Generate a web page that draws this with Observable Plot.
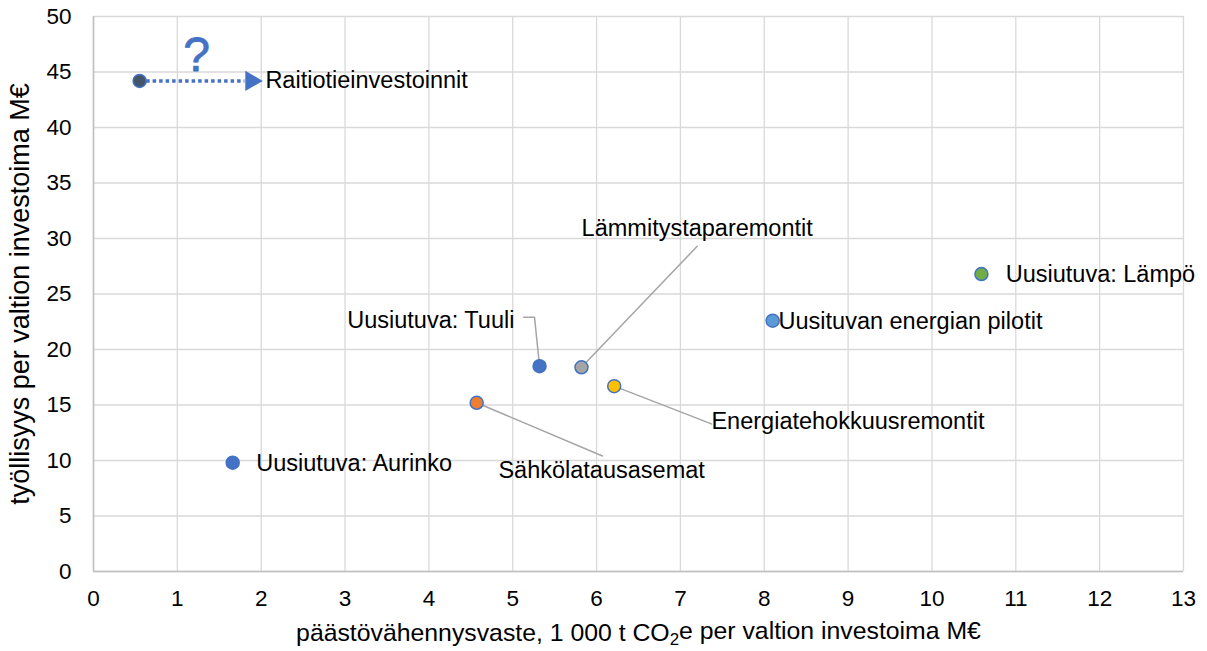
<!DOCTYPE html>
<html><head><meta charset="utf-8">
<script src="https://cdn.jsdelivr.net/npm/d3@7"></script>
<script src="https://cdn.jsdelivr.net/npm/@observablehq/plot@0.6"></script>
<style>
body{margin:0;background:#fff;font-family:"Liberation Sans",Arial,sans-serif}
#chart svg{display:block}
</style>
</head><body><div id="chart"></div>
<script>
// ---- data ----
const names = ["Raitiotieinvestoinnit","Uusiutuva: Aurinko","Sähkölatausasemat","Uusiutuva: Tuuli","Lämmitystaparemontit","Energiatehokkuusremontit","Uusituvan energian pilotit","Uusiutuva: Lämpö"];
const emissions = [0.55, 1.66, 4.57, 5.32, 5.82, 6.21, 8.10, 10.59];
const jobs = [44.2, 9.8, 15.2, 18.5, 18.4, 16.7, 22.6, 26.8];
const fills = ["#44546A","#4472C4","#ED7D31","#4472C4","#A5A5A5","#FFC000","#5B9BD5","#70AD47"];
const xTicks = d3.range(0, 14, 1);
const yTicks = d3.range(0, 55, 5);
const xLabelParts = ["päästövähennysvaste, 1 000 t CO", "2", "e per valtion investoima M€"];
const yLabel = "työllisyys per valtion investoima M€";

// ---- annotation layout (label anchors in data coords) ----
const labelX = [2.05, 1.94, 6.06, 5.02, 7.20, 7.37, 8.17, 10.88];
const labelY = [44.2, 9.7, 9.1, 22.6, 30.9, 13.5, 22.5, 26.8];
const labelAnchor = ["start","start","middle","end","middle","start","start","start"];
const leaders = [
  {id: 2, pts: [[4.57, 15.2], [6.07, 10.4]]},
  {id: 3, pts: [[5.32, 18.5], [5.26, 22.9], [5.13, 22.9]]},
  {id: 4, pts: [[5.82, 18.4], [7.20, 29.3]]},
  {id: 5, pts: [[6.21, 16.7], [7.37, 13.3]]}
];
const arrowFrom = [0.55, 44.2];
const arrowTo = [1.80, 44.2];
const arrowTip = [1.88, 44.2];
const question = {x: 1.23, y: 46.5, text: "?"};

const points = names.map((n, i) => ({name: n, x: emissions[i], y: jobs[i], fill: fills[i],
  lx: labelX[i], ly: labelY[i], anchor: labelAnchor[i]}));
const leaderRows = leaders.flatMap(l => l.pts.map(p => ({id: l.id, x: p[0], y: p[1]})));
const font = '"Liberation Sans", Arial, sans-serif';

const labelMarks = ["start", "middle", "end"].map(a =>
  Plot.text(points.filter(d => d.anchor === a), {x: "lx", y: "ly", text: "name", textAnchor: a, fill: "#000", fontSize: 23.5}));

const chart = Plot.plot({
  width: 1207, height: 651,
  marginLeft: 93, marginRight: 24, marginTop: 16, marginBottom: 80,
  style: {fontFamily: font, fontSize: "22.5px", color: "#000", background: "#fff", overflow: "visible"},
  x: {domain: [0, 13], ticks: xTicks, tickSize: 0, tickPadding: 19, label: null},
  y: {domain: [0, 50], ticks: yTicks, tickSize: 0, tickPadding: 22, label: null},
  marks: [
    Plot.gridX(xTicks, {stroke: "#D9D9D9", strokeOpacity: 1, strokeWidth: 1.3}),
    Plot.gridY(yTicks, {stroke: "#D9D9D9", strokeOpacity: 1, strokeWidth: 1.3}),
    Plot.ruleX([0], {stroke: "#BFBFBF", strokeWidth: 1.5}),
    Plot.ruleY([0], {stroke: "#BFBFBF", strokeWidth: 1.5}),
    Plot.line(leaderRows, {x: "x", y: "y", z: "id", stroke: "#A5A5A5", strokeWidth: 1.5}),
    Plot.link([{x1: arrowFrom[0], y1: arrowFrom[1], x2: arrowTo[0], y2: arrowTo[1]}],
      {x1: "x1", y1: "y1", x2: "x2", y2: "y2", stroke: "#4472C4", strokeWidth: 3.5, strokeDasharray: "3.5,3"}),
    Plot.dot([{x: arrowTip[0], y: arrowTip[1]}], {x: "x", y: "y", symbol: "triangle", rotate: 90, r: 7.5, fill: "#4472C4", stroke: "none"}),
    Plot.dot(points, {x: "x", y: "y", r: 6.5, fill: "fill", stroke: "#4472C4", strokeWidth: 1.5}),
    ...labelMarks,
    Plot.text([question], {x: "x", y: "y", text: "text", fill: "#4472C4", fontSize: 48, stroke: "#4472C4", strokeWidth: 0.8}),
    Plot.text([yLabel], {frameAnchor: "left", text: d => d, rotate: -90, textAnchor: "middle", dx: -73, fontSize: 27, fill: "#000"}),
    Plot.text([xLabelParts.join("")], {frameAnchor: "bottom", text: d => d, dy: 69, fontSize: 24.8, fill: "#000", className: "xtitle"})
  ]
});
document.getElementById("chart").append(chart);

// subscript in x title
const t = d3.select(chart).select(".xtitle text");
if (!t.empty()) {
  t.text(null);
  t.append("tspan").text(xLabelParts[0]);
  t.append("tspan").attr("dy", "0.25em").attr("font-size", "0.68em").text(xLabelParts[1]);
  t.append("tspan").attr("dy", "-0.25em").text(xLabelParts[2]);
}
</script>
</body></html>
